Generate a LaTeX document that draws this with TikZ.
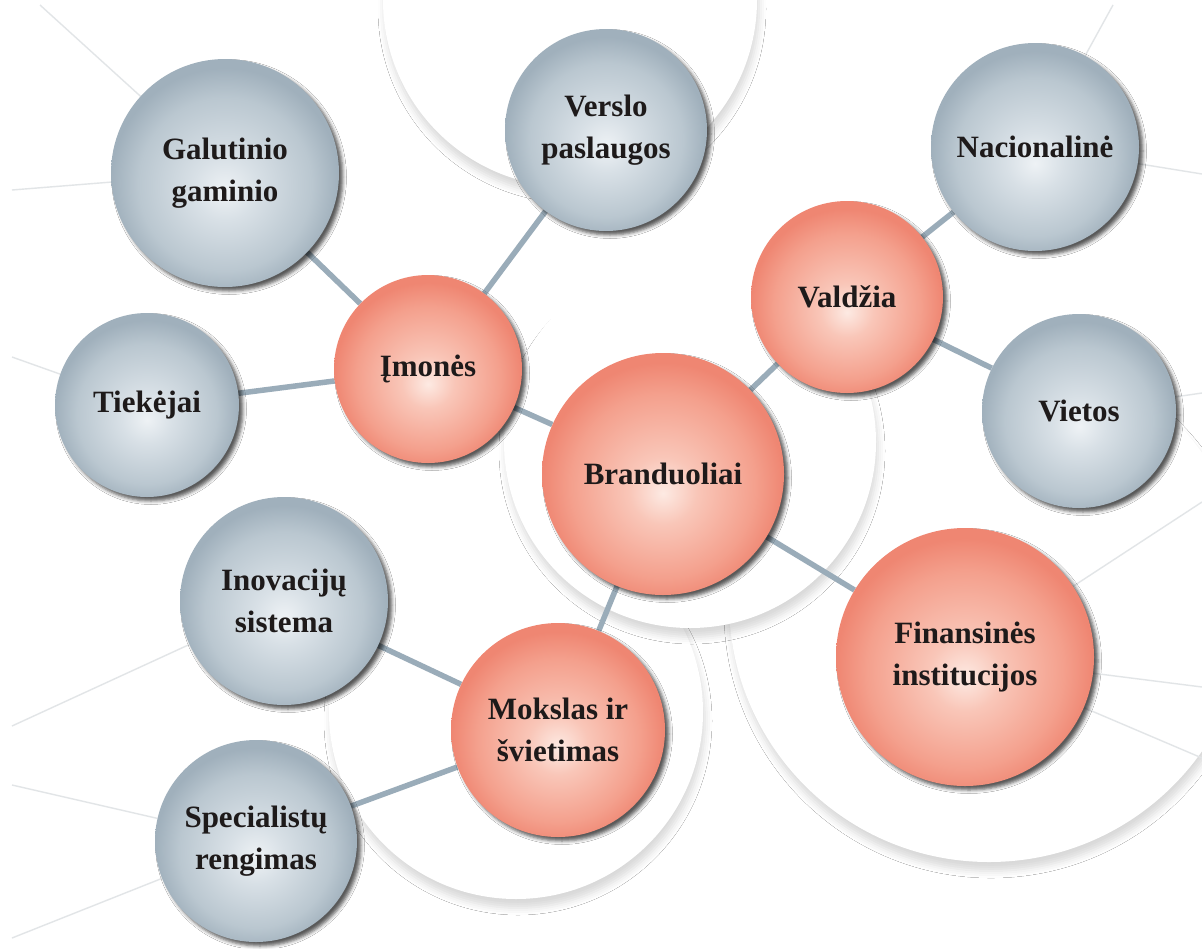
\documentclass[tikz,border=0pt]{standalone}
\usepackage{fontspec}
\setmainfont{Liberation Serif}
\usetikzlibrary{shadows.blur}
\definecolor{gA}{HTML}{EEF2F5}
\definecolor{gB}{HTML}{D8E0E6}
\definecolor{gC}{HTML}{BAC7D0}
\definecolor{gD}{HTML}{A0B0BC}
\definecolor{rA}{HTML}{FDEAE3}
\definecolor{rB}{HTML}{F9C6B8}
\definecolor{rC}{HTML}{F4A08D}
\definecolor{rD}{HTML}{EF8672}
\definecolor{linkc}{HTML}{9AACB9}
\definecolor{thinc}{HTML}{E2E5E7}
\definecolor{txt}{HTML}{1E1A1A}
\pgfdeclareradialshading{graysph}{\pgfpoint{0bp}{-4bp}}{color(0bp)=(gA); color(7bp)=(gB); color(19bp)=(gC); color(25bp)=(gD); color(50bp)=(gD)}
\pgfdeclareradialshading{redsph}{\pgfpoint{0bp}{-4bp}}{color(0bp)=(rA); color(7bp)=(rB); color(19bp)=(rC); color(25bp)=(rD); color(50bp)=(rD)}
\pgfdeclarelayer{bglayer}
\pgfdeclarelayer{linklayer}
\pgfsetlayers{bglayer,linklayer,main}
\tikzset{
  sph/.style={circle, inner sep=0pt, align=center, text=txt,
    font=\fontsize{31}{42}\selectfont\bfseries,
    blur shadow={shadow xshift=4pt, shadow yshift=-4pt, shadow blur radius=3.5pt, shadow opacity=65}},
  gsph/.style={sph, shading=graysph},
  rsph/.style={sph, shading=redsph},
  link/.style={line width=5.5pt, draw=linkc},
  thinline/.style={line width=1.4pt, draw=thinc},
  bgc/.style={fill=white, blur shadow={shadow xshift=2pt, shadow yshift=-9pt, shadow blur radius=7pt, shadow opacity=15}},
}
\begin{document}
\begin{tikzpicture}[x=1pt,y=-1pt]
\useasboundingbox (0,0) rectangle (1202,948);

% spheres
\node[gsph, minimum size=228pt] (gal) at (225,173) {Galutinio\\gaminio};
\node[gsph, minimum size=202pt] (ver) at (606,130) {Verslo\\paslaugos};
\node[gsph, minimum size=208pt] (nac) at (1035,147) {Nacionalinė};
\node[gsph, minimum size=184pt] (tie) at (147,405) {Tiekėjai};
\node[rsph, minimum size=188pt] (imo) at (428,369) {Įmonės};
\node[rsph, minimum size=192pt] (val) at (847,297) {Valdžia};
\node[gsph, minimum size=194pt] (vie) at (1079,411) {Vietos};
\node[rsph, minimum size=242pt] (bra) at (663,474) {Branduoliai};
\node[gsph, minimum size=208pt] (ino) at (284,601) {Inovacijų\\sistema};
\node[rsph, minimum size=214pt] (mok) at (558,730) {Mokslas ir\\švietimas};
\node[rsph, minimum size=258pt] (fin) at (965,657) {Finansinės\\institucijos};
\node[gsph, minimum size=202pt] (spe) at (256,841) {Specialistų\\rengimas};

% free ends of the faint lines
\coordinate (e1) at (40,5);
\coordinate (e2) at (12,190);
\coordinate (e3) at (12,357);
\coordinate (e4) at (12,726);
\coordinate (e5) at (12,785);
\coordinate (e6) at (12,938);
\coordinate (e7) at (1113,5);
\coordinate (e8) at (1202,174);
\coordinate (e9) at (1202,393);
\coordinate (e10) at (1202,502);
\coordinate (e11) at (1202,687);
\coordinate (e12) at (1202,758);

\begin{pgfonlayer}{bglayer}
  \fill[white] (0,0) rectangle (1202,948);
  \begin{scope}
    \clip (0,0) rectangle (1202,948);
    \fill[bgc] (989,602) circle[radius=260];
    \fill[bgc] (516,712) circle[radius=187];
    \fill[bgc] (570,0) circle[radius=187];
    \fill[bgc] (690,442) circle[radius=186];
  \end{scope}
\end{pgfonlayer}

\begin{pgfonlayer}{linklayer}
  \draw[thinline] (e1) -- (gal);
  \draw[thinline] (e2) -- (gal);
  \draw[thinline] (e3) -- (tie);
  \draw[thinline] (e4) -- (ino);
  \draw[thinline] (e5) -- (spe);
  \draw[thinline] (e6) -- (spe);
  \draw[thinline] (e7) -- (nac);
  \draw[thinline] (e8) -- (nac);
  \draw[thinline] (e9) -- (vie);
  \draw[thinline] (e10) -- (fin);
  \draw[thinline] (e11) -- (fin);
  \draw[thinline] (e12) -- (fin);
  \draw[link] (gal) -- (imo);
  \draw[link] (ver) -- (imo);
  \draw[link] (tie) -- (imo);
  \draw[link] (imo) -- (bra);
  \draw[link] (val) -- (bra);
  \draw[link] (val) -- (nac);
  \draw[link] (val) -- (vie);
  \draw[link] (bra) -- (fin);
  \draw[link] (bra) -- (mok);
  \draw[link] (ino) -- (mok);
  \draw[link] (spe) -- (mok);
\end{pgfonlayer}
\end{tikzpicture}
\end{document}
